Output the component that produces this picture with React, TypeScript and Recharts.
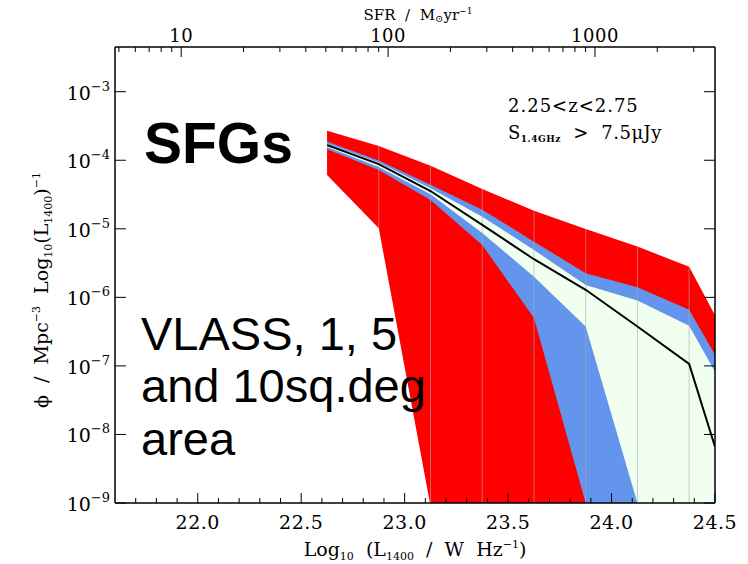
import React from "react";
import {
  ComposedChart,
  Area,
  Line,
  XAxis,
  YAxis,
  ReferenceLine,
} from "recharts";

// bin centres, log10 L1400 / W Hz^-1
const LUM = [22.625, 22.875, 23.125, 23.375, 23.625, 23.875, 24.125, 24.375, 24.5];

// central luminosity function
const PHI = [1.67e-4, 8.8e-5, 3.56e-5, 1.14e-5, 3.6e-6, 1.29e-6, 3.75e-7, 1.07e-7, 6.6e-9];

// VLASS / 1 sq.deg envelope (red)
const RED_HI = [2.7e-4, 1.61e-4, 8.3e-5, 3.8e-5, 1.84e-5, 9.9e-6, 5.5e-6, 2.8e-6, 5.5e-7];
const RED_LO = [6.1e-5, 1.02e-5, 9e-10, 1e-11, 1e-11, 1e-11, 1e-11, 1e-11, 1e-11];

// 5 sq.deg envelope (blue)
const BLUE_HI = [1.87e-4, 9.9e-5, 4.4e-5, 1.9e-5, 6.5e-6, 2.25e-6, 1.41e-6, 6.6e-7, 1.45e-7];
const BLUE_LO = [1.45e-4, 7.2e-5, 2.64e-5, 5.8e-6, 5.0e-7, 1e-9, 1e-11, 1e-11, 1e-11];

// 10 sq.deg envelope (pale green)
const GREEN_HI = [1.76e-4, 9.3e-5, 3.9e-5, 1.5e-5, 4.9e-6, 1.52e-6, 9.0e-7, 3.85e-7, 8.2e-8];
const GREEN_LO = [1.56e-4, 8.0e-5, 3.2e-5, 8.7e-6, 2.0e-6, 3.75e-7, 1e-9, 1e-11, 1e-11];

// axis ticks
const X_MAJOR = [22.0, 22.5, 23.0, 23.5, 24.0, 24.5];
const Y_TICKS = [1e-9, 1e-8, 1e-7, 1e-6, 1e-5, 1e-4, 1e-3];
const SFR_MAJOR = [10, 100, 1000];
const SFR_MINOR = [5, 6, 7, 8, 9, 20, 30, 40, 50, 60, 70, 80, 90, 200, 300, 400, 500, 600, 700, 800, 900, 2000, 3000];
const SFR_OFFSET = 20.92; // log L1400 = log SFR + offset

const X_DOMAIN = [21.6, 24.5];
const Y_DOMAIN = [1e-9, 4.49e-3];

const SERIF = "'DejaVu Serif', serif";
const SANS = "'Liberation Sans', Arial, sans-serif";

const data = LUM.map((lum, i) => ({
  lum,
  phi: PHI[i],
  red: [RED_LO[i], RED_HI[i]],
  blue: [BLUE_LO[i], BLUE_HI[i]],
  green: [GREEN_LO[i], GREEN_HI[i]],
}));

const xMinor: number[] = [];
for (let v = 21.7; v < 24.45; v += 0.1) {
  const r = Math.round(v * 10) / 10;
  if (!X_MAJOR.some((m) => Math.abs(m - r) < 1e-6)) xMinor.push(r);
}
const xTicks = [...X_MAJOR, ...xMinor].sort((a, b) => a - b);

const topTicks = [...SFR_MAJOR, ...SFR_MINOR]
  .map((s) => Math.log10(s) + SFR_OFFSET)
  .sort((a, b) => a - b);

function isXMajor(v: number) {
  return X_MAJOR.some((m) => Math.abs(m - v) < 1e-6);
}

function BottomTick(props: any) {
  const { x, y, payload } = props;
  const major = isXMajor(payload.value);
  return (
    <g>
      <line x1={x} y1={y} x2={x} y2={y - (major ? 10 : 5)} stroke="#000" strokeWidth={1} />
      {major && (
        <text x={x} y={y + 26} textAnchor="middle" fontFamily={SERIF} fontSize={19} letterSpacing={0.5} fill="#000">
          {payload.value.toFixed(1)}
        </text>
      )}
    </g>
  );
}

function TopTick(props: any) {
  const { x, y, payload } = props;
  const sfr = Math.pow(10, payload.value - SFR_OFFSET);
  const lab = SFR_MAJOR.find((m) => Math.abs(m - sfr) / m < 1e-3);
  return (
    <g>
      <line x1={x} y1={y} x2={x} y2={y + (lab ? 10 : 5)} stroke="#000" strokeWidth={1} />
      {lab && (
        <text x={x} y={y - 5} textAnchor="middle" fontFamily={SERIF} fontSize={18} letterSpacing={0.5} fill="#000">
          {String(lab)}
        </text>
      )}
    </g>
  );
}

function LeftTick(props: any) {
  const { x, y, payload } = props;
  const e = Math.round(Math.log10(payload.value));
  return (
    <g>
      <line x1={x} y1={y} x2={x + 11} y2={y} stroke="#000" strokeWidth={1} />
      <text x={x - 5} y={y + 8} textAnchor="end" fontFamily={SERIF} fontSize={19} fill="#000">
        <tspan>10</tspan>
        <tspan dy={-9} fontSize={13}>{"\u2212" + Math.abs(e)}</tspan>
      </text>
    </g>
  );
}

function RightTick(props: any) {
  const { x, y } = props;
  return <line x1={x} y1={y} x2={x - 11} y2={y} stroke="#000" strokeWidth={1} />;
}

export default function App() {
  return (
    <div style={{ position: "absolute", left: 0, top: 0, width: 748, height: 564, background: "#fff" }}>
      <ComposedChart width={748} height={564} data={data} margin={{ top: 0, right: 0, bottom: 0, left: 0 }}>
        <XAxis
          dataKey="lum"
          type="number"
          domain={X_DOMAIN}
          allowDataOverflow
          ticks={xTicks}
          interval={0}
          tick={BottomTick}
          tickLine={false}
          tickSize={0}
          tickMargin={0}
          axisLine={{ stroke: "#000", strokeWidth: 1.5 }}
          height={61}
        />
        <XAxis
          xAxisId="top"
          dataKey="lum"
          orientation="top"
          type="number"
          domain={X_DOMAIN}
          allowDataOverflow
          ticks={topTicks}
          interval={0}
          tick={TopTick}
          tickLine={false}
          tickSize={0}
          tickMargin={0}
          axisLine={{ stroke: "#000", strokeWidth: 1.5 }}
          height={47}
        />
        <YAxis
          type="number"
          scale="log"
          domain={Y_DOMAIN}
          allowDataOverflow
          ticks={Y_TICKS}
          interval={0}
          tick={LeftTick}
          tickLine={false}
          tickSize={0}
          tickMargin={0}
          axisLine={{ stroke: "#000", strokeWidth: 1.5 }}
          width={115}
        />
        <YAxis
          yAxisId="right"
          orientation="right"
          type="number"
          scale="log"
          domain={Y_DOMAIN}
          allowDataOverflow
          ticks={Y_TICKS}
          interval={0}
          tick={RightTick}
          tickLine={false}
          tickSize={0}
          tickMargin={0}
          axisLine={{ stroke: "#000", strokeWidth: 1.5 }}
          width={33}
        />
        <Area dataKey="red" type="linear" fill="#ff0000" fillOpacity={1} stroke="none" isAnimationActive={false} />
        <Area dataKey="blue" type="linear" fill="#6495ed" fillOpacity={1} stroke="none" isAnimationActive={false} />
        <Area dataKey="green" type="linear" fill="#f0fff0" fillOpacity={1} stroke="none" isAnimationActive={false} />
        {LUM.slice(1, LUM.length - 1).map((lum, i) => (
          <ReferenceLine
            key={lum}
            segment={[
              { x: lum, y: RED_LO[i + 1] },
              { x: lum, y: RED_HI[i + 1] },
            ]}
            stroke="#aaaaaa"
            strokeOpacity={0.6}
            strokeWidth={1}
            ifOverflow="hidden"
          />
        ))}
        {/* invisible copy so the top and right axes get a scale */}
        <Line
          xAxisId="top"
          yAxisId="right"
          dataKey="phi"
          stroke="none"
          dot={false}
          activeDot={false}
          legendType="none"
          isAnimationActive={false}
        />
        <Line dataKey="phi" type="linear" stroke="#000" strokeWidth={2} dot={false} isAnimationActive={false} />
      </ComposedChart>

      <svg
        width={748}
        height={564}
        style={{ position: "absolute", left: 0, top: 0, pointerEvents: "none" }}
      >
        <text x={418} y={20} xmlSpace="preserve" textAnchor="middle" fontFamily={SERIF} fontSize={15} fill="#000">
          {"SFR  /  M"}
          <tspan fontSize={10} dy={2}>{"\u2299"}</tspan>
          <tspan dy={-2}>yr</tspan>
          <tspan fontSize={9} dy={-6}>{"\u22121"}</tspan>
        </text>

        <text x={415} y={556} xmlSpace="preserve" textAnchor="middle" fontFamily={SERIF} fontSize={19} fill="#000">
          {"Log"}
          <tspan fontSize={11} dy={4}>10</tspan>
          <tspan dy={-4}>{"  (L"}</tspan>
          <tspan fontSize={11} dy={4}>1400</tspan>
          <tspan dy={-4}>{"  /  W  Hz"}</tspan>
          <tspan fontSize={11} dy={-8}>{"\u22121"}</tspan>
          <tspan dy={8}>)</tspan>
        </text>

        <text
          x={48}
          y={290}
          xmlSpace="preserve"
          transform="rotate(-90 48 290)"
          textAnchor="middle"
          fontFamily={SERIF}
          fontSize={19}
          fill="#000"
        >
          {"\u03d5  /  Mpc"}
          <tspan fontSize={11} dy={-8}>{"\u22123"}</tspan>
          <tspan dy={8}>{"  Log"}</tspan>
          <tspan fontSize={11} dy={4}>10</tspan>
          <tspan dy={-4}>(L</tspan>
          <tspan fontSize={11} dy={4}>1400</tspan>
          <tspan dy={-4}>)</tspan>
          <tspan fontSize={11} dy={-8}>{"\u22121"}</tspan>
        </text>

        <text x={508} y={112} fontFamily={SERIF} fontSize={18} letterSpacing={1} fill="#000">
          2.25&lt;z&lt;2.75
        </text>
        <text x={508} y={139} xmlSpace="preserve" fontFamily={SERIF} fontSize={18} letterSpacing={0.5} fill="#000">
          {"S"}
          <tspan fontSize={9} fontWeight="bold" dy={3}>1.4GHz</tspan>
          <tspan dy={-3}>{"  >  7.5\u03bcJy"}</tspan>
        </text>

        <text x={144} y={163} fontFamily={SANS} fontWeight="bold" fontSize={57} fill="#000">
          SFGs
        </text>
        <text fontFamily={SANS} fontSize={47} fill="#000">
          <tspan x={141} y={350}>VLASS, 1, 5</tspan>
          <tspan x={141} y={402}>and 10sq.deg</tspan>
          <tspan x={141} y={455}>area</tspan>
        </text>
      </svg>
    </div>
  );
}
